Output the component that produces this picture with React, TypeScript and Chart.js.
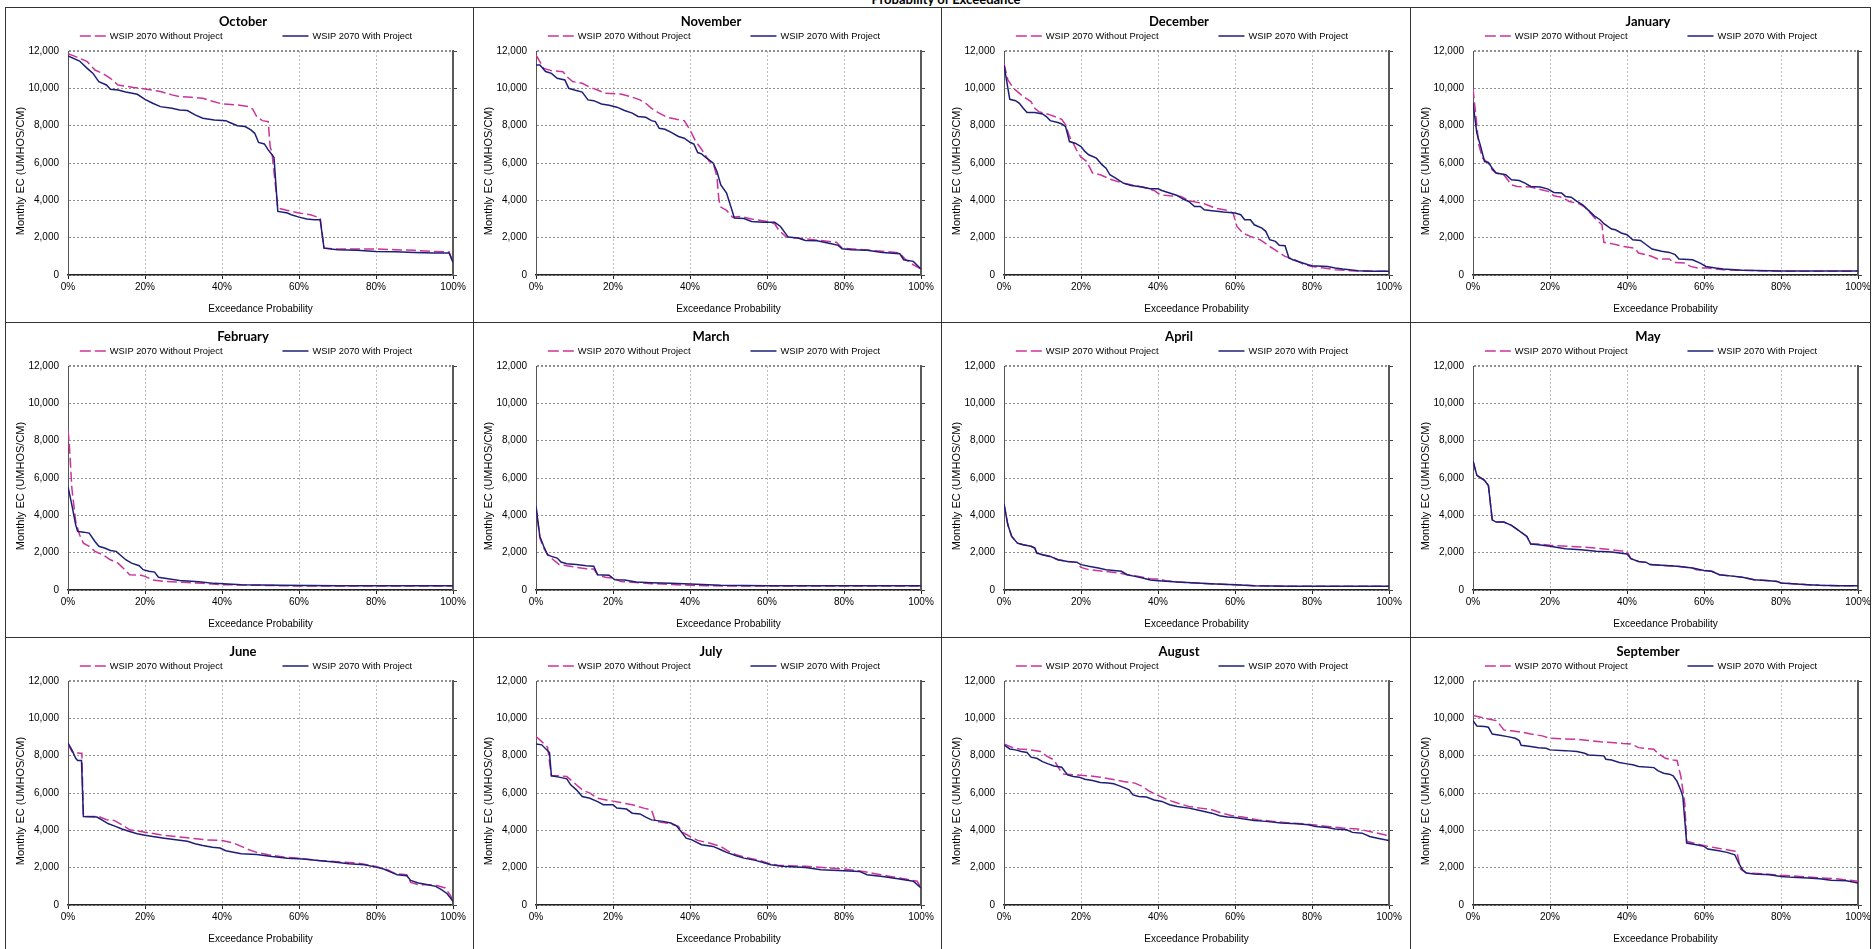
import React, { useEffect, useRef } from 'react';
import { Chart, registerables } from 'chart.js';

Chart.register(...registerables);

type Pt = [number, number];

const PINK = '#CC3399';
const NAVY = '#1E1E78';

const pageTitle = 'Probability of Exceedance';
const seriesLabels = ['WSIP 2070 Without Project', 'WSIP 2070 With Project'];
const yAxisTitle = 'Monthly EC (UMHOS/CM)';
const xAxisTitle = 'Exceedance Probability';
const xTicks = [0, 20, 40, 60, 80, 100];
const yTicks = [0, 2000, 4000, 6000, 8000, 10000, 12000];

// ---------- October ----------
const octWithout: Pt[] = [
  [0, 11850], [2, 11700], [5, 11430], [7, 10980], [9, 10800], [11, 10540], [13, 10180], [17, 10050],
  [20, 9970], [24, 9830], [27, 9650], [29, 9560], [32, 9520], [35, 9470], [37, 9340], [40, 9165],
  [44, 9110], [47, 9020], [48, 8880], [49, 8490], [50.5, 8270], [52, 8220], [52.5, 6880], [53, 6530],
  [54.5, 3580], [57, 3460], [60, 3320], [63, 3230], [65.5, 3050], [66.5, 1440], [70, 1390], [75, 1390],
  [80, 1390], [85, 1355], [90, 1320], [95, 1265], [99, 1230], [100, 640],
];
const octWith: Pt[] = [
  [0, 11730], [3, 11460], [5, 11070], [6.5, 10800], [8, 10360], [10, 10180], [11, 9950], [13, 9910],
  [15, 9800], [18, 9680], [20, 9410], [22, 9200], [24, 9020], [27, 8930], [29, 8840], [31, 8810],
  [33, 8580], [35, 8400], [38, 8310], [41, 8270], [42, 8170], [44, 8000], [46, 7950], [47.5, 7770],
  [48.5, 7590], [49.5, 7100], [51, 7020], [52, 6700], [53, 6440], [53.5, 6300], [54.5, 3405], [57, 3320],
  [58, 3230], [60, 3100], [62, 3000], [64, 2960], [65.5, 2960], [66.5, 1440], [70, 1355], [75, 1320],
  [80, 1265], [85, 1250], [90, 1210], [95, 1180], [99, 1180], [100, 680],
];

// ---------- November ----------
const novWithout: Pt[] = [
  [0, 11790], [2, 11070], [4, 10950], [7, 10890], [8, 10630], [9.5, 10360], [12, 10270], [14, 10060],
  [16, 9910], [18, 9730], [22, 9700], [24.5, 9560], [27, 9380], [28.5, 9200], [30, 8930], [32, 8670],
  [34, 8450], [36.5, 8340], [38.5, 8270], [40, 7770], [41.5, 7150], [43, 6740], [45, 6080], [46, 6000],
  [47, 5280], [47.5, 4030], [48, 3640], [49.5, 3460], [51, 3100], [53, 3140], [56, 3000], [60, 2870],
  [62, 2745], [63, 2420], [65, 2030], [68, 1980], [72, 1890], [78, 1750], [79.5, 1440], [85, 1355],
  [90, 1270], [94.5, 1180], [96, 820], [98, 550], [100, 320],
];
const novWith: Pt[] = [
  [0, 11250], [1, 11250], [2.5, 10900], [4, 10800], [5.5, 10540], [7.5, 10450], [8.5, 10000], [10, 9910],
  [12, 9800], [13.5, 9380], [15, 9340], [17, 9160], [19, 9090], [21, 8990], [23, 8810], [25, 8670],
  [26.5, 8490], [28.5, 8450], [30, 8270], [31, 8220], [32, 7860], [33.5, 7810], [35, 7650], [37, 7420],
  [38.5, 7330], [40, 7110], [41, 7020], [42, 6560], [43, 6490], [44, 6310], [46, 6000], [47, 5550],
  [48, 4830], [49.5, 4390], [51, 3405], [51.5, 3050], [54, 3030], [56, 2870], [59, 2830], [62, 2820],
  [63.5, 2600], [65.5, 2030], [68, 1980], [70, 1850], [73, 1840], [77, 1660], [78.5, 1590], [79.5, 1410],
  [82, 1355], [86, 1320], [90, 1210], [94.5, 1140], [95.5, 820], [98, 730], [100, 320],
];

// ---------- December ----------
const decWithout: Pt[] = [
  [0, 11340], [1, 10450], [2.5, 10000], [5, 9560], [7, 9290], [8, 8930], [9, 8750], [12, 8580],
  [15, 8340], [16, 8040], [17, 7420], [18, 7060], [19, 6620], [20, 6310], [21.5, 6080], [23, 5460],
  [25, 5370], [28, 5100], [31, 4920], [34, 4800], [37, 4650], [39, 4530], [40.5, 4300], [43, 4240],
  [46, 4210], [48, 3980], [52, 3820], [55, 3580], [58, 3460], [59.5, 3320], [60.5, 2600], [62, 2250],
  [64, 2070], [66.5, 1890], [69, 1530], [71, 1270], [73, 1000], [75.5, 820], [78, 550], [80, 460],
  [83, 370], [86, 285], [90, 230], [95, 200], [100, 200],
];
const decWith: Pt[] = [
  [0, 11250], [0.5, 10630], [1.5, 9410], [3, 9340], [4, 9200], [5, 8930], [6, 8700], [8, 8700],
  [10, 8630], [11, 8490], [12, 8270], [14, 8170], [15, 8090], [16, 7950], [17, 7150], [18.5, 7060],
  [20, 6880], [21, 6620], [22, 6440], [24, 6260], [25.5, 5900], [26.5, 5720], [27.5, 5370], [29, 5190],
  [31, 4920], [33, 4800], [36, 4710], [38, 4620], [40, 4620], [41, 4530], [43, 4390], [45, 4260],
  [46.5, 4070], [48, 3940], [49.5, 3670], [51, 3670], [52, 3490], [54, 3440], [57, 3370], [60, 3320],
  [61.5, 3230], [62.5, 2960], [64, 2960], [65, 2690], [67, 2510], [68, 2340], [69, 1890], [70.5, 1800],
  [71.5, 1590], [73, 1570], [74, 910], [75, 820], [77, 680], [79, 550], [80, 500], [84, 460],
  [86, 375], [88, 320], [92, 230], [96, 200], [100, 200],
];

// ---------- January ----------
const janWithout: Pt[] = [
  [0, 10000], [0.5, 9020], [1.5, 6970], [2.5, 6260], [4, 5990], [5, 5630], [6, 5460], [8, 5370],
  [9, 5100], [10, 4830], [11.5, 4740], [15, 4710], [17, 4600], [19.5, 4480], [21, 4240], [23, 4170],
  [25, 3940], [27.5, 3820], [29, 3640], [30.5, 3320], [32, 2960], [33.5, 2690], [34, 1750], [36, 1680],
  [39, 1530], [42, 1440], [43, 1180], [46, 1030], [48, 860], [51, 860], [52, 680], [55, 640],
  [56.5, 460], [58.5, 370], [61, 370], [65, 285], [70, 250], [80, 200], [100, 200],
];
const janWith: Pt[] = [
  [0, 9200], [1, 7600], [2, 6880], [3, 6080], [4, 6030], [5, 5720], [6, 5460], [8.5, 5370],
  [10, 5100], [12, 5060], [13.5, 4920], [15, 4740], [17.5, 4710], [19.5, 4600], [21, 4420], [23, 4390],
  [24, 4210], [25.5, 4170], [27, 3940], [28.5, 3760], [30, 3460], [31.5, 3170], [33, 2960], [34, 2750],
  [36, 2460], [37, 2420], [38.5, 2250], [40, 2160], [41.5, 1890], [43.5, 1850], [45, 1620], [46.5, 1390],
  [49, 1270], [51, 1210], [52.5, 1090], [53.5, 860], [57, 820], [59, 640], [60.5, 460], [63, 370],
  [65, 320], [70, 250], [80, 215], [100, 215],
];

// ---------- February ----------
const febWithout: Pt[] = [
  [0, 8580], [0.3, 7950], [1, 5460], [2, 3670], [3, 2960], [4, 2510], [5.5, 2340], [7, 2070],
  [9, 1890], [11, 1620], [13, 1440], [14.5, 1140], [16, 820], [19, 785], [20, 730], [22, 535],
  [25, 460], [30, 410], [35, 355], [40, 285], [50, 250], [60, 215], [80, 215], [100, 215],
];
const febWith: Pt[] = [
  [0, 5540], [1, 4560], [2, 3490], [2.5, 3140], [4, 3100], [5.5, 3050], [7, 2600], [8, 2340],
  [9.5, 2250], [11, 2120], [12.5, 2070], [13.5, 1890], [15, 1620], [16.5, 1440], [18.5, 1300], [19.5, 1090],
  [21, 1000], [22.5, 960], [23.5, 680], [26, 605], [29, 515], [34, 445], [38, 355], [45, 285],
  [55, 250], [70, 230], [100, 230],
];

// ---------- March ----------
const marWithout: Pt[] = [
  [0, 4480], [1, 2780], [2, 2250], [3, 1890], [4.5, 1620], [6, 1360], [8, 1300], [10, 1230],
  [13, 1140], [15, 1120], [16, 820], [18, 680], [20, 640], [22, 460], [25, 410], [30, 340],
  [35, 300], [40, 250], [50, 215], [60, 215], [100, 215],
];
const marWith: Pt[] = [
  [0, 4480], [1, 2870], [2, 2340], [3, 1890], [4, 1800], [5.5, 1710], [6.5, 1500], [8, 1410],
  [10.5, 1360], [13, 1300], [15, 1270], [16, 820], [19, 785], [20.5, 550], [23, 535], [26, 430],
  [30, 390], [35, 355], [40, 320], [48, 250], [60, 230], [100, 230],
];

// ---------- April ----------
const aprWithout: Pt[] = [
  [0, 4620], [1, 3490], [2, 2870], [3.5, 2510], [5, 2420], [7, 2340], [8, 2250], [8.5, 1980],
  [10, 1890], [12, 1800], [14, 1620], [16.5, 1530], [19, 1480], [20, 1210], [22, 1090], [26, 1000],
  [30, 910], [32, 820], [34, 770], [38, 605], [40, 590], [42, 500], [45, 430], [50, 375],
  [55, 320], [60, 285], [65, 230], [75, 195], [100, 195],
];
const aprWith: Pt[] = [
  [0, 4620], [1, 3490], [2, 2870], [3.5, 2510], [5, 2420], [7, 2340], [8, 2250], [8.5, 1980],
  [10, 1890], [12, 1800], [14, 1620], [16.5, 1530], [19, 1480], [20, 1360], [22, 1270], [24.5, 1180],
  [26.5, 1090], [30.5, 1000], [32, 820], [34, 730], [36, 640], [38, 535], [40, 500], [45, 430],
  [50, 375], [55, 320], [60, 285], [65, 230], [75, 195], [100, 195],
];

// ---------- May ----------
const mayWithout: Pt[] = [
  [0, 6920], [0.5, 6530], [1, 6140], [3, 5870], [4, 5600], [5, 3760], [6, 3640], [8, 3640],
  [10, 3460], [12, 3170], [14, 2870], [15, 2460], [17, 2460], [20, 2400], [25, 2340], [32, 2250],
  [38, 2100], [40, 2070], [41, 1680], [43, 1530], [45, 1480], [46, 1360], [49, 1320], [53, 1270],
  [57, 1180], [58, 1090], [62, 1000], [64, 820], [68, 730], [70, 680], [73, 550], [77, 500],
  [79, 460], [80, 375], [83, 340], [87, 285], [90, 250], [95, 230], [100, 230],
];
const mayWith: Pt[] = [
  [0, 6920], [0.5, 6530], [1, 6140], [3, 5870], [4, 5600], [5, 3760], [6, 3640], [8, 3640],
  [10, 3460], [12, 3170], [14, 2870], [15, 2460], [17, 2420], [20, 2340], [24, 2210], [28, 2160],
  [32, 2070], [36, 2030], [40, 1930], [41, 1680], [43, 1530], [45, 1480], [46, 1360], [49, 1320],
  [53, 1270], [57, 1180], [60, 1050], [62, 1000], [64, 820], [68, 730], [70, 680], [73, 550],
  [77, 500], [79, 460], [80, 375], [83, 340], [87, 285], [90, 250], [95, 230], [100, 230],
];

// ---------- June ----------
const junWithout: Pt[] = [
  [0, 8630], [1, 8220], [2, 8170], [3, 8130], [3.6, 8130], [4, 4740], [8, 4740], [10, 4570],
  [12, 4530], [14, 4300], [16, 4030], [20, 3900], [24, 3760], [28, 3670], [32, 3580], [36, 3490],
  [40, 3460], [43, 3320], [45, 3140], [47, 2960], [49, 2820], [52, 2690], [56, 2570], [60, 2500],
  [65, 2390], [70, 2320], [75, 2250], [80, 2070], [83, 1890], [85, 1680], [88, 1620], [89, 1210],
  [91, 1090], [94, 1090], [96, 1030], [98, 910], [99.5, 460], [100, 110],
];
const junWith: Pt[] = [
  [0, 8670], [1, 8310], [2, 7860], [2.5, 7740], [3.5, 7740], [4, 4740], [7.5, 4710], [9, 4530],
  [10.5, 4350], [12, 4240], [14, 4070], [16, 3940], [18, 3820], [20, 3740], [22, 3670], [25, 3580],
  [28, 3490], [31, 3410], [33, 3280], [35, 3190], [37.5, 3100], [39.5, 3050], [41, 2910], [43, 2830],
  [45, 2750], [49, 2710], [53, 2600], [57, 2510], [61, 2460], [65, 2390], [69, 2300], [73, 2210],
  [77, 2160], [80, 2030], [82, 1930], [84, 1750], [85.5, 1620], [88, 1570], [89, 1320], [91, 1180],
  [93.5, 1090], [95.5, 1000], [97, 820], [98.5, 605], [100, 195],
];

// ---------- July ----------
const julWithout: Pt[] = [
  [0, 9020], [1.5, 8750], [3, 8450], [4, 6920], [6, 6920], [8, 6880], [9, 6700], [10.5, 6440],
  [12, 6170], [14, 5990], [16, 5720], [19, 5600], [22, 5490], [25, 5370], [28, 5190], [30, 5100],
  [31, 4480], [35, 4350], [37, 4210], [38, 3900], [40, 3670], [42, 3460], [45, 3320], [48, 3140],
  [50, 2870], [52, 2690], [54, 2570], [58, 2390], [60, 2250], [63, 2120], [70, 2070], [80, 1930],
  [85, 1800], [88, 1680], [92, 1530], [96, 1390], [99, 1270], [100, 910],
];
const julWith: Pt[] = [
  [0, 8630], [1.5, 8580], [3.5, 8170], [4, 6920], [6, 6850], [8, 6760], [9, 6440], [10.5, 6170],
  [12, 5810], [14, 5720], [16, 5540], [17.5, 5370], [20, 5370], [21, 5190], [23.5, 5140], [25, 4920],
  [27, 4880], [28.5, 4710], [30, 4560], [33, 4480], [35, 4390], [36.5, 4240], [38, 3850], [39, 3580],
  [40.5, 3490], [43, 3230], [46, 3140], [48, 2960], [49.5, 2820], [52, 2640], [54, 2510], [57, 2390],
  [59, 2280], [61, 2160], [64, 2070], [70, 2010], [74, 1890], [80, 1840], [84, 1800], [86, 1620],
  [90, 1530], [94, 1410], [98, 1270], [100, 910],
];

// ---------- August ----------
const augWithout: Pt[] = [
  [0, 8630], [2, 8450], [4, 8360], [7, 8310], [9.5, 8220], [11, 7990], [13, 7770], [14.5, 7240],
  [15.5, 7020], [18, 6970], [22, 6920], [25, 6850], [28, 6740], [31, 6620], [34, 6530], [36, 6350],
  [37.5, 6130], [39, 5960], [41, 5780], [43, 5600], [45, 5460], [48, 5280], [51, 5190], [54, 5100],
  [56.5, 4920], [59, 4800], [62, 4710], [66, 4560], [70, 4480], [74, 4390], [78, 4350], [80, 4300],
  [84, 4210], [88, 4120], [92, 4070], [96, 3890], [100, 3710],
];
const augWith: Pt[] = [
  [0, 8580], [1.5, 8360], [3, 8310], [4.5, 8220], [6, 8170], [7, 7920], [8.5, 7860], [10, 7680],
  [11.5, 7560], [13, 7450], [15, 7380], [16.5, 6970], [18, 6880], [19.5, 6850], [21, 6740], [23, 6670],
  [25, 6560], [27, 6530], [28.5, 6490], [30, 6380], [31.5, 6260], [32.5, 6170], [33.5, 5900], [35, 5810],
  [37, 5780], [39, 5630], [41, 5550], [43, 5370], [45, 5280], [48, 5190], [50, 5100], [52, 5010],
  [54, 4920], [56, 4780], [58, 4710], [60, 4690], [62, 4620], [65, 4530], [68, 4480], [72, 4390],
  [76, 4350], [79, 4300], [81, 4210], [84, 4150], [86, 4070], [89, 4030], [90.5, 3890], [93, 3850],
  [95, 3670], [97, 3580], [99, 3490], [100, 3460],
];

// ---------- September ----------
const sepWithout: Pt[] = [
  [0, 10150], [2, 10060], [4, 9970], [6, 9880], [7, 9650], [8, 9380], [10, 9330], [13, 9250],
  [15, 9160], [18, 9060], [20, 8930], [23, 8900], [27, 8880], [30, 8810], [33, 8740], [36, 8700],
  [39, 8650], [41, 8630], [43, 8430], [45, 8380], [47, 8340], [48, 8130], [50, 7860], [52, 7770],
  [53, 7740], [54, 6880], [55, 5460], [55.5, 3410], [58, 3280], [61, 3140], [64, 3030], [67, 2920],
  [68.5, 2870], [69.5, 1930], [71, 1710], [75, 1680], [80, 1590], [85, 1530], [90, 1460], [95, 1390],
  [100, 1270],
];
const sepWith: Pt[] = [
  [0, 9880], [1, 9590], [3, 9560], [4, 9520], [5, 9160], [7, 9090], [9, 9020], [11, 8930],
  [12, 8810], [12.5, 8560], [15, 8490], [17, 8430], [19, 8400], [20, 8310], [24, 8270], [27, 8220],
  [29, 8130], [30, 8040], [34, 7990], [34.5, 7810], [36, 7770], [38, 7630], [40, 7560], [41.5, 7510],
  [43, 7420], [47, 7360], [48, 7200], [49.5, 7060], [51, 7010], [52, 6920], [53, 6620], [54, 6130],
  [54.5, 5810], [55.5, 3320], [58, 3230], [60, 3140], [61, 3000], [63.5, 2920], [66, 2820], [68, 2690],
  [69, 2250], [70, 1890], [71, 1710], [73, 1660], [77, 1620], [80, 1530], [83, 1480], [87, 1440],
  [90, 1410], [93, 1320], [97, 1300], [100, 1180],
];

const monthNames = [
  'October', 'November', 'December', 'January',
  'February', 'March', 'April', 'May',
  'June', 'July', 'August', 'September',
];
const withoutSeries: Pt[][] = [
  octWithout, novWithout, decWithout, janWithout,
  febWithout, marWithout, aprWithout, mayWithout,
  junWithout, julWithout, augWithout, sepWithout,
];
const withSeries: Pt[][] = [
  octWith, novWith, decWith, janWith,
  febWith, marWith, aprWith, mayWith,
  junWith, julWith, augWith, sepWith,
];

// ---------- layout ----------
const COL_LEFTS = [5, 473, 941, 1410];
const ROW_TOPS = [7, 322, 637];
const PANEL_W = 468;
const PANEL_H = 315;
const RIGHT_EDGE = 1870;
const PLOT_LEFT = 63;
const PLOT_RIGHT = 448;
const PLOT_BOTTOM = 268;
const PAD_LEFT = 8;
const LEGEND_Y = 29;
const LEGEND_CX = 241;
const YTITLE_X = 16;
const YTITLE_SHIFT = 8;

const SANS = '"Liberation Sans", Arial, sans-serif';

const legendPlugin = {
  id: 'panelLegend',
  afterDraw(chart: any) {
    const ctx = chart.ctx as CanvasRenderingContext2D;
    const ds = chart.data.datasets;
    const lineLen = 26;
    const gapText = 4;
    const gapItem = 60;
    ctx.save();
    ctx.font = `9.3px ${SANS}`;
    const widths = ds.map((d: any) => lineLen + gapText + ctx.measureText(d.label).width);
    const total = widths.reduce((a: number, b: number) => a + b, 0) + gapItem * (ds.length - 1);
    let x = LEGEND_CX - total / 2;
    ds.forEach((d: any, i: number) => {
      ctx.strokeStyle = d.borderColor;
      ctx.lineWidth = 1.5;
      ctx.setLineDash(d.borderDash ? [11, 4] : []);
      ctx.beginPath();
      ctx.moveTo(x, LEGEND_Y);
      ctx.lineTo(x + lineLen, LEGEND_Y);
      ctx.stroke();
      ctx.setLineDash([]);
      ctx.fillStyle = '#000';
      ctx.textAlign = 'left';
      ctx.textBaseline = 'middle';
      ctx.fillText(d.label, x + lineLen + gapText, LEGEND_Y + 0.5);
      x += widths[i] + gapItem;
    });
    // y axis title (Excel places it a little below the plot's centre)
    const area = chart.chartArea;
    ctx.save();
    ctx.translate(YTITLE_X, (area.top + area.bottom) / 2 + YTITLE_SHIFT);
    ctx.rotate(-Math.PI / 2);
    ctx.font = `11px ${SANS}`;
    ctx.fillStyle = '#000';
    ctx.textAlign = 'center';
    ctx.textBaseline = 'middle';
    ctx.fillText(yAxisTitle, 0, 0);
    ctx.restore();
    ctx.restore();
  },
};

function Panel({ idx }: { idx: number }) {
  const ref = useRef<HTMLCanvasElement | null>(null);
  useEffect(() => {
    if (!ref.current) return;
    const toXY = (pts: Pt[]) => pts.map(([x, y]) => ({ x, y }));
    const chart = new Chart(ref.current, {
      type: 'line',
      data: {
        datasets: [
          {
            label: seriesLabels[0],
            data: toXY(withoutSeries[idx]),
            borderColor: PINK,
            backgroundColor: PINK,
            borderWidth: 1.5,
            borderDash: [10, 4],
            pointRadius: 0,
            tension: 0,
            fill: false,
            order: 1,
          },
          {
            label: seriesLabels[1],
            data: toXY(withSeries[idx]),
            borderColor: NAVY,
            backgroundColor: NAVY,
            borderWidth: 1.5,
            pointRadius: 0,
            tension: 0,
            fill: false,
            order: 0,
          },
        ],
      },
      options: {
        animation: false,
        responsive: false,
        maintainAspectRatio: false,
        events: [],
        layout: { padding: { left: PAD_LEFT, right: 0, top: 0, bottom: 0 } },
        plugins: {
          legend: { display: false },
          tooltip: { enabled: false },
          title: {
            display: true,
            text: monthNames[idx],
            color: '#000',
            font: { family: 'Lato, "Open Sans", sans-serif', weight: 'bold', size: 13, lineHeight: 1.2 },
            padding: { top: 7.2, bottom: 21.2 },
          },
        },
        scales: {
          x: {
            type: 'linear',
            min: 0,
            max: 100,
            afterBuildTicks: (s: any) => { s.ticks = xTicks.map((v) => ({ value: v })); },
            afterFit: (s: any) => { s.height = PANEL_H - PLOT_BOTTOM; },
            ticks: {
              color: '#000',
              font: { family: SANS, size: 10 },
              padding: 2,
              maxRotation: 0,
              callback: (v: any) => `${v}%`,
            },
            grid: {
              color: '#bdbdbd',
              lineWidth: 1,
              drawTicks: true,
              tickLength: 4,
              tickColor: '#222',
              tickWidth: 1,
            },
            border: { display: true, color: '#222', width: 1.5, dash: [2, 2] },
            title: {
              display: true,
              text: xAxisTitle,
              color: '#000',
              font: { family: SANS, size: 10, lineHeight: 1.2 },
              padding: { top: 0, bottom: 6.4 },
            },
          },
          y: {
            type: 'linear',
            position: 'left',
            min: 0,
            max: 12000,
            afterBuildTicks: (s: any) => { s.ticks = yTicks.map((v) => ({ value: v })); },
            afterFit: (s: any) => { s.width = PLOT_LEFT - PAD_LEFT; },
            ticks: {
              color: '#000',
              font: { family: SANS, size: 10 },
              padding: 9,
            },
            grid: {
              color: '#8f8f8f',
              lineWidth: (c: any) => (c.tick && c.tick.value === 12000 ? 2 : 1),
              drawTicks: false,
            },
            border: { display: true, color: '#555', width: 1, dash: [2, 2] },
            title: { display: false, text: yAxisTitle },
          },
          y2: {
            type: 'linear',
            position: 'right',
            min: 0,
            max: 12000,
            afterBuildTicks: (s: any) => { s.ticks = yTicks.map((v) => ({ value: v })); },
            afterFit: (s: any) => { s.width = PANEL_W - PLOT_RIGHT; },
            ticks: { display: false },
            grid: {
              drawOnChartArea: false,
              drawTicks: true,
              tickLength: 4,
              tickColor: '#444',
              tickWidth: 1,
            },
            border: { display: true, color: '#5a5a5a', width: 2 },
          },
        },
      },
      plugins: [legendPlugin],
    } as any);
    return () => chart.destroy();
  }, [idx]);

  const col = idx % 4;
  const row = Math.floor(idx / 4);
  const left = COL_LEFTS[col];
  const top = ROW_TOPS[row];
  const clipW = Math.min(PANEL_W, RIGHT_EDGE - left);
  return (
    <div
      style={{
        position: 'absolute',
        left,
        top,
        width: clipW,
        height: PANEL_H,
        overflow: 'hidden',
      }}
    >
      <canvas
        ref={ref}
        width={PANEL_W}
        height={PANEL_H}
        style={{ display: 'block', width: PANEL_W, height: PANEL_H }}
      />
    </div>
  );
}

export default function App() {
  const lineColor = '#333';
  const vLines = [...COL_LEFTS, RIGHT_EDGE];
  return (
    <div
      style={{
        position: 'absolute',
        left: 0,
        top: 0,
        width: 1872,
        height: 949,
        overflow: 'hidden',
        background: '#fff',
      }}
    >
      <div
        style={{
          position: 'absolute',
          left: 746,
          width: 400,
          top: -8,
          textAlign: 'center',
          fontFamily: 'Lato, "Open Sans", sans-serif',
          fontWeight: 700,
          fontSize: 13,
          lineHeight: '14px',
          color: '#000',
          whiteSpace: 'nowrap',
        }}
      >
        {pageTitle}
      </div>
      {monthNames.map((_, i) => (
        <Panel key={i} idx={i} />
      ))}
      {vLines.map((x, i) => (
        <div
          key={`v${i}`}
          style={{ position: 'absolute', left: x, top: ROW_TOPS[0], width: 1, height: 949 - ROW_TOPS[0], background: lineColor }}
        />
      ))}
      {ROW_TOPS.map((y, i) => (
        <div
          key={`h${i}`}
          style={{ position: 'absolute', left: COL_LEFTS[0], top: y, width: RIGHT_EDGE - COL_LEFTS[0] + 1, height: 1, background: lineColor }}
        />
      ))}
    </div>
  );
}
